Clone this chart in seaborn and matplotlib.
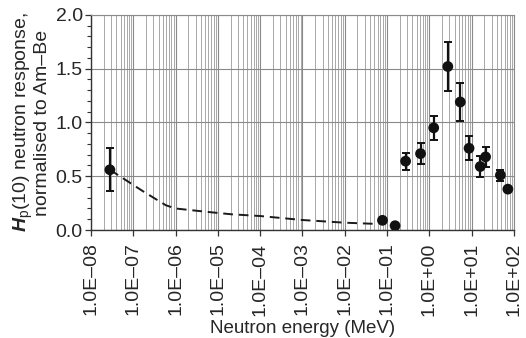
import numpy as np
import pandas as pd
import matplotlib
matplotlib.use("Agg")
import matplotlib.pyplot as plt
import matplotlib.ticker as mticker
import seaborn as sns

# measured points (energy in MeV, response normalised to Am-Be)
energy = [2.8e-8, 0.078, 0.155, 0.275, 0.62, 1.27, 2.74, 5.4, 8.7, 16.0, 21.4, 48.0, 72.0]
response = [0.56, 0.09, 0.04, 0.64, 0.71, 0.95, 1.52, 1.19, 0.76, 0.59, 0.68, 0.51, 0.38]
error = [0.20, 0.0, 0.0, 0.08, 0.10, 0.11, 0.23, 0.18, 0.11, 0.10, 0.09, 0.05, 0.02]

# dashed guide curve
curve_energy = [2.8e-8, 1.7e-7, 5.9e-7, 1.0e-6, 3.5e-6, 8.7e-6, 2.1e-5, 1.0e-4, 1.0e-3, 1.0e-2, 0.062]
curve_response = [0.56, 0.36, 0.23, 0.20, 0.177, 0.161, 0.146, 0.13, 0.093, 0.068, 0.056]

decades = list(range(-8, 3))
tick_labels = ["1.0E\u2013%02d" % -d if d < 0 else "1.0E+%02d" % d for d in decades]

sns.set_theme(style="ticks")
plt.rcParams['font.family'] = ['Liberation Sans', 'DejaVu Sans']
plt.rcParams['mathtext.fontset'] = 'custom'
plt.rcParams['mathtext.rm'] = 'Liberation Sans'
plt.rcParams['mathtext.bf'] = 'Liberation Sans:italic:bold'

df = pd.DataFrame({'energy': energy, 'response': response})
curve = pd.DataFrame({'energy': curve_energy, 'response': curve_response})

fig = plt.figure(figsize=(5.26, 3.38), dpi=100)
ax = fig.add_axes([0.173, 0.3195, 0.804, 0.6365])
ax.set_xscale('log')

sns.lineplot(data=curve, x='energy', y='response', ax=ax, color='#1a1a1a',
             linestyle=(0, (5, 3)), linewidth=1.4, zorder=3)
ax.errorbar(energy, response, yerr=error, fmt='none', ecolor='#111111',
            elinewidth=1.6, capsize=3, capthick=1.4, zorder=4)
sns.scatterplot(data=df, x='energy', y='response', ax=ax, color='#111111',
                s=60, edgecolor='none', zorder=5)

ax.set_xlim(1e-8, 1e2)
ax.set_ylim(0, 2.0)
ax.set_xticks([10.0 ** d for d in decades])
ax.set_xticklabels(tick_labels, rotation=90, fontsize=14)
ax.xaxis.set_minor_locator(mticker.LogLocator(base=10, subs=np.arange(2, 10), numticks=100))
ax.xaxis.set_minor_formatter(mticker.NullFormatter())
ax.set_yticks([0.0, 0.5, 1.0, 1.5, 2.0])
ax.set_yticklabels(["0.0", "0.5", "1.0", "1.5", "2.0"], fontsize=14)
ax.yaxis.set_minor_locator(mticker.MultipleLocator(0.1))
ax.tick_params(axis='x', which='minor', length=0)
ax.tick_params(axis='x', which='major', length=4, width=0.9, color='#333333', pad=5)
ax.tick_params(axis='y', which='major', length=4, width=0.9, color='#333333', pad=2)
ax.tick_params(axis='y', which='minor', length=3, width=0.8, color='#333333')

ax.grid(True, which='major', axis='both', color='#8a8a8a', linewidth=0.8)
ax.grid(True, which='minor', axis='x', color='#a8a8a8', linewidth=0.7)
ax.set_axisbelow(True)

for side in ['top', 'right']:
    ax.spines[side].set_color('#8a8a8a')
    ax.spines[side].set_linewidth(0.8)
for side in ['left', 'bottom']:
    ax.spines[side].set_color('#333333')
    ax.spines[side].set_linewidth(1.0)

ax.set_xlabel("Neutron energy (MeV)", fontsize=13.5, labelpad=3)
ax.set_ylabel("$\\mathbf{H}_{\\mathrm{p}}$(10) neutron response,\nnormalised to Am\u2013Be",
              fontsize=14, labelpad=3, linespacing=0.95)

fig.savefig("out.png", dpi=100)
